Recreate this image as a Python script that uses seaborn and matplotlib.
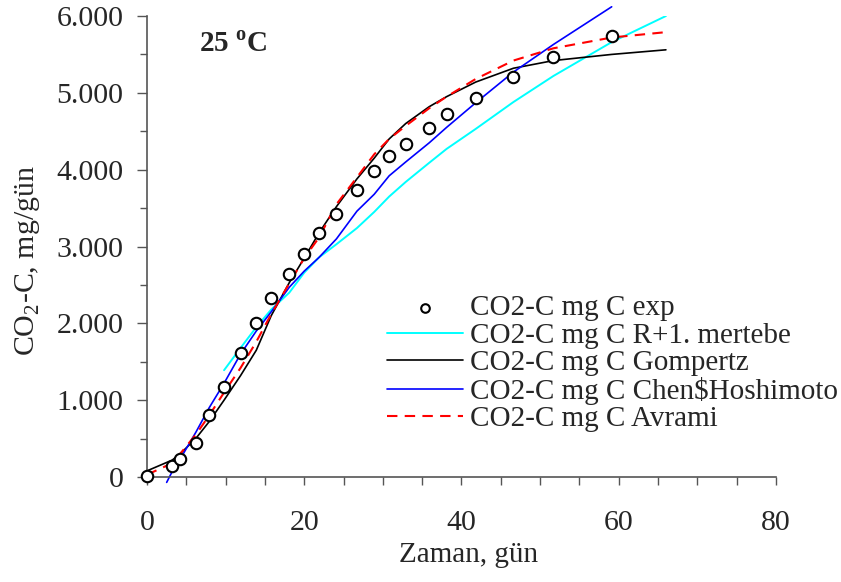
import matplotlib
matplotlib.use('Agg')
import matplotlib.pyplot as plt
from matplotlib.ticker import MultipleLocator, FuncFormatter
import seaborn as sns
import pandas as pd

sns.set_style('white')
plt.rcParams['font.family'] = ['Liberation Serif', 'DejaVu Serif']
plt.rcParams['mathtext.fontset'] = 'custom'
plt.rcParams['mathtext.rm'] = 'Liberation Serif'
plt.rcParams['mathtext.bf'] = 'Liberation Serif:bold'

# experimental points
t_exp = [0, 3.2, 4.2, 6.2, 7.9, 9.8, 11.9, 13.9, 15.8, 18.1, 20.0, 21.9, 24.1,
         26.7, 28.9, 30.8, 32.9, 35.9, 38.1, 41.8, 46.6, 51.7, 59.1]
co2_exp = [0.01, 0.14, 0.23, 0.44, 0.81, 1.17, 1.61, 2.00, 2.33, 2.64, 2.90, 3.18, 3.42,
           3.74, 3.98, 4.18, 4.34, 4.54, 4.73, 4.93, 5.21, 5.47, 5.74]

# model curves
t_mod = t_exp + [66]
gompertz = [0.08, 0.22, 0.30, 0.50, 0.72, 1.00, 1.32, 1.65, 2.10, 2.53, 2.85, 3.18, 3.52,
            3.88, 4.15, 4.40, 4.60, 4.82, 4.95, 5.14, 5.32, 5.42, 5.50, 5.56]
avrami = [0.03, 0.18, 0.30, 0.55, 0.80, 1.10, 1.42, 1.76, 2.12, 2.52, 2.85, 3.12, 3.55,
          3.90, 4.20, 4.40, 4.57, 4.80, 4.95, 5.18, 5.42, 5.58, 5.72, 5.79]

t_r1 = [9.8, 11.9, 13.9, 15.8, 18.1, 20.0, 21.9, 24.1, 26.7, 28.9, 30.8, 32.9, 35.9,
        38.1, 41.8, 46.6, 51.7, 59.1, 66]
r1 = [1.39, 1.68, 1.95, 2.18, 2.40, 2.66, 2.86, 3.03, 3.24, 3.45, 3.65, 3.84, 4.09,
      4.27, 4.53, 4.88, 5.22, 5.66, 6.00]

t_chen = [2.5, 3.2, 4.2, 6.2, 7.9, 9.8, 11.9, 13.9, 15.8, 18.1, 20.0, 21.9, 24.1,
          26.7, 28.9, 30.8, 32.9, 35.9, 38.1, 41.8, 46.6, 51.7, 59.1]
chen = [-0.07, 0.07, 0.23, 0.58, 0.90, 1.22, 1.60, 1.90, 2.15, 2.47, 2.68, 2.86, 3.10,
        3.46, 3.68, 3.92, 4.10, 4.35, 4.55, 4.87, 5.27, 5.63, 6.12]

labels = ['CO2-C mg C exp', 'CO2-C mg C R+1. mertebe', 'CO2-C mg C Gompertz',
          'CO2-C mg C Chen$Hoshimoto', 'CO2-C mg C Avrami']

fig = plt.figure(figsize=(8.41, 5.82), dpi=100)
ax = fig.add_axes([0.1748, 0.1804, 0.7479, 0.7921])

lw = 1.2
sns.lineplot(x=t_r1, y=r1, color='#00FFFF', lw=1.4, ax=ax, label=labels[1], sort=False)
sns.lineplot(x=t_mod, y=gompertz, color='black', lw=lw, ax=ax, label=labels[2], sort=False)
sns.lineplot(x=t_chen, y=chen, color='#0000FF', lw=lw, ax=ax, label=labels[3], sort=False,
             clip_on=False)
sns.lineplot(x=t_mod, y=avrami, color='#FF0000', lw=1.5, ax=ax, label=labels[4], sort=False,
             dashes=False, linestyle=(0, (5, 3.5)))
sns.scatterplot(x=t_exp, y=co2_exp, marker='o', s=68, facecolor='white', edgecolor='black',
                linewidth=1.5, ax=ax, label=labels[0], zorder=5, clip_on=False)

ax.set_xlim(0, 80)
ax.set_ylim(0, 6)
ax.xaxis.set_major_locator(MultipleLocator(20))
ax.xaxis.set_minor_locator(MultipleLocator(5))
ax.yaxis.set_major_locator(MultipleLocator(1))
ax.yaxis.set_minor_locator(MultipleLocator(0.5))
ax.yaxis.set_major_formatter(FuncFormatter(lambda v, p: '0' if v == 0 else f'{v:.3f}'))

for s in ['top', 'right']:
    ax.spines[s].set_visible(False)
for s in ['left', 'bottom']:
    ax.spines[s].set_color('#555555')
    ax.spines[s].set_linewidth(1.2)

ax.tick_params(axis='x', which='both', direction='out', length=6, width=1, color='#555555',
               bottom=True, labelsize=21.5, pad=18)
ax.tick_params(axis='y', which='major', direction='out', length=7, width=1, color='#555555',
               left=True, labelsize=21.5, pad=10)
ax.tick_params(axis='y', which='minor', direction='out', length=5, width=1, color='#555555',
               left=True)

ax.set_xlabel('Zaman, gün', fontsize=21)
ax.set_ylabel(r'CO$_\mathrm{2}$-C, mg/gün', fontsize=21.5)
ax.xaxis.set_label_coords(0.512, -0.14)
ax.yaxis.set_label_coords(-0.167, 0.469)

ax.text(0.083, 0.922, r'25 $^\mathbf{o}$C', transform=ax.transAxes, fontsize=21,
        fontweight='bold', va='baseline', ha='left')

handles, labs = ax.get_legend_handles_labels()
order = [labs.index(l) for l in labels]
ax.legend([handles[i] for i in order], [labs[i] for i in order], loc='upper left',
          bbox_to_anchor=(387 / 841, 1 - 295 / 582), bbox_transform=fig.transFigure,
          frameon=False, fontsize=21, borderpad=0, borderaxespad=0, labelspacing=0.03,
          handlelength=2.6, handletextpad=0.25, markerscale=0.75)

fig.savefig('out.png', dpi=100)
